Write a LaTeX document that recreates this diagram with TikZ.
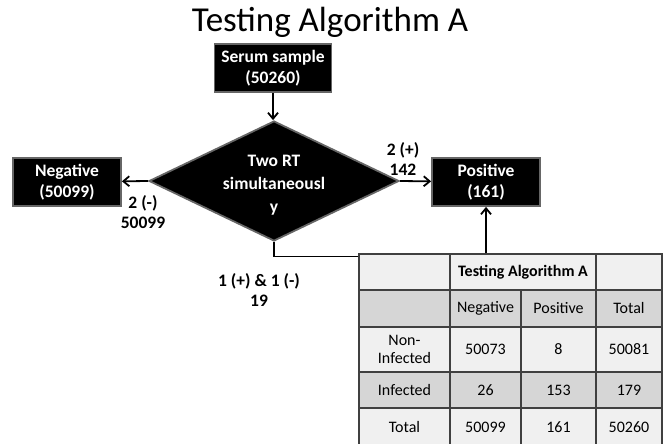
\documentclass[tikz,border=0pt]{standalone}
\usepackage{fontspec}
\setmainfont{Carlito}
\usetikzlibrary{shapes.geometric, arrows.meta}

\tikzset{
box/.style={draw=black!60, fill=black, text=white, font=\fontsize{17.5}{21.5}\selectfont\bfseries, align=center, minimum width=108pt, minimum height=48pt, inner sep=0pt},
lbl/.style={font=\fontsize{17.5}{20}\selectfont\bfseries, align=center, inner sep=0pt},
cell/.style={draw=black!75, line width=1.2pt, inner sep=0pt, align=center, font=\fontsize{16}{18.5}\selectfont},
light/.style={fill=black!6},
dark/.style={fill=black!16},
}

\begin{document}
\begin{tikzpicture}[x=1pt, y=-1pt, line width=1.8pt, >={Straight Barb[length=6pt, width=10pt]}]
\path[use as bounding box, clip] (0,0) rectangle (669,444);
\node[font=\fontsize{35}{40}\selectfont, anchor=base] (title) at (330,32) {Testing Algorithm A};
\node[box, minimum width=117pt] (serum) at (273,68) {Serum sample\\(50260)};
\node[draw=black!60, fill=black, shape=diamond, aspect=2.08, minimum width=250pt, minimum height=120pt, inner sep=0pt] (dia) at (274,181) {};
\node[text=white, font=\fontsize{17.5}{23}\selectfont\bfseries, align=center, inner sep=0pt] (diatxt) at (274,185) {Two RT\\simultaneousl\\y};
\node[box] (neg) at (67,182) {Negative\\(50099)};
\node[box] (pos) at (486,182) {Positive\\(161)};
\node[lbl] (lneg) at (143,212) {2 (-)\\50099};
\node[lbl] (lpos) at (403,159) {2 (+)\\142};
\node[lbl] (lmix) at (259,290) {1 (+) \& 1 (-)\\19};
\draw[->] (serum) -- (serum |- dia.north);
\draw[->] (dia.west) -- (neg);
\draw[->] (dia.east) -- (pos);
\node[cell, light, minimum width=91pt, minimum height=36pt] (h1) at (404.5,272) {};
\node[cell, light, minimum width=146pt, minimum height=36pt, font=\fontsize{16}{18.5}\selectfont\bfseries] (h2) at (523,272) {Testing Algorithm A};
\node[cell, light, minimum width=66pt, minimum height=36pt] (h3) at (629,272) {};
\node[cell, dark, minimum width=91pt, minimum height=37pt] (c1) at (404.5,308.5) {};
\node[cell, dark, minimum width=71pt, minimum height=37pt] (c2) at (485.5,308.5) {Negative};
\node[cell, dark, minimum width=75pt, minimum height=37pt] (c3) at (558.5,308.5) {Positive};
\node[cell, dark, minimum width=66pt, minimum height=37pt] (c4) at (629,308.5) {Total};
\node[cell, light, minimum width=91pt, minimum height=45pt] (n1) at (404.5,349.5) {Non-\\Infected};
\node[cell, light, minimum width=71pt, minimum height=45pt] (n2) at (485.5,349.5) {50073};
\node[cell, light, minimum width=75pt, minimum height=45pt] (n3) at (558.5,349.5) {8};
\node[cell, light, minimum width=66pt, minimum height=45pt] (n4) at (629,349.5) {50081};
\node[cell, dark, minimum width=91pt, minimum height=36pt] (i1) at (404.5,390) {Infected};
\node[cell, dark, minimum width=71pt, minimum height=36pt] (i2) at (485.5,390) {26};
\node[cell, dark, minimum width=75pt, minimum height=36pt] (i3) at (558.5,390) {153};
\node[cell, dark, minimum width=66pt, minimum height=36pt] (i4) at (629,390) {179};
\node[cell, light, minimum width=91pt, minimum height=38pt] (s1) at (404.5,427) {Total};
\node[cell, light, minimum width=71pt, minimum height=38pt] (s2) at (485.5,427) {50099};
\node[cell, light, minimum width=75pt, minimum height=38pt] (s3) at (558.5,427) {161};
\node[cell, light, minimum width=66pt, minimum height=38pt] (s4) at (629,427) {50260};
\draw (dia.south) |- ([yshift=-3pt]h1.north west);
\draw[->] (h2.north -| pos.south) -- (pos.south);
\end{tikzpicture}
\end{document}
